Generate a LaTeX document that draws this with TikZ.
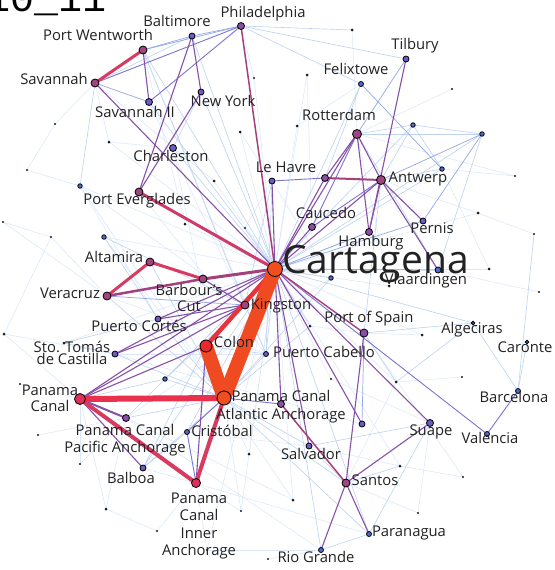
\documentclass[tikz,border=0pt]{standalone}
\usepackage{fontspec}
\setmainfont{Open Sans}
\newfontfamily\titlefont{Liberation Mono}
\definecolor{cE0}{HTML}{D9E7F8}
\definecolor{cE1}{HTML}{BDD2F2}
\definecolor{cE2}{HTML}{94A8E6}
\definecolor{cE3}{HTML}{7A74D2}
\definecolor{cE4}{HTML}{8652A8}
\definecolor{cE5}{HTML}{A5407F}
\definecolor{cE6}{HTML}{D93A62}
\definecolor{cRed}{HTML}{E8333C}
\definecolor{cOr}{HTML}{F04A22}
\definecolor{cCr}{HTML}{E9304C}
\definecolor{nBlue}{HTML}{4F6BD0}
\definecolor{nBP}{HTML}{6A5CC0}
\definecolor{nPur}{HTML}{8A4FA5}
\definecolor{nMag}{HTML}{A0457F}
\definecolor{nCr}{HTML}{E0305A}
\definecolor{nRed}{HTML}{E8282E}
\definecolor{nOr}{HTML}{F04E1E}
\definecolor{txt}{HTML}{222222}
\pgfdeclarelayer{bg}
\pgfdeclarelayer{edges}
\pgfsetlayers{bg,edges,main}
\tikzset{
  pnode/.style={circle,draw=black,line width=0.8pt,inner sep=0pt},
  dotnode/.style={circle,fill=black!90,inner sep=0pt,minimum size=3pt},
  tinynode/.style={circle,fill=black!90,inner sep=0pt,minimum size=2.2pt},
  lbl/.style={font=\fontsize{14.8}{16}\selectfont,text=txt,inner sep=0pt,anchor=mid},
  mlbl/.style={text=txt,inner sep=0pt,anchor=center,align=center},
  e0/.style={draw=cE0,line width=0.5pt},
  e1/.style={draw=cE1,line width=0.6pt},
  e2/.style={draw=cE2,line width=0.7pt},
  e3/.style={draw=cE3,line width=0.9pt},
  e4/.style={draw=cE4,line width=1.1pt},
  e5/.style={draw=cE5,line width=2pt},
  e6/.style={draw=cE6,line width=3pt},
}
\newcommand\PN[5]{\node[pnode,fill=#4,minimum size=#5pt] (#1) at (#2,#3) {};}
\newcommand\DT[3]{\node[dotnode] (#1) at (#2,#3) {};}
\newcommand\TD[3]{\node[tinynode] (#1) at (#2,#3) {};}
\newcommand\EDG[3]{\draw[#1] (#2.center) -- (#3.center);}
\begin{document}
\begin{tikzpicture}[x=1pt,y=-1pt]
\useasboundingbox (0,0) rectangle (554,570);
\begin{pgfonlayer}{bg}
\fill[white] (0,0) rectangle (554,570);
\end{pgfonlayer}
\clip (0,0) rectangle (554,570);
% title
\node[font=\titlefont\fontsize{40}{40}\selectfont,anchor=base west,inner sep=0pt] (title) at (-14,12) {10\_11};
% labelled nodes
\PN{phl}{241}{26}{nPur}{7}
\PN{bal}{192}{36}{nBP}{6}
\PN{pwe}{143}{50}{nMag}{8}
\PN{sav}{95}{83}{nMag}{8}
\PN{sv2}{149}{102}{nBP}{7}
\PN{nyc}{201}{92}{nBP}{6}
\PN{chs}{173}{148}{nBP}{7}
\PN{pev}{139}{192}{nMag}{8}
\PN{leh}{272}{181}{nBP}{6}
\PN{lhr}{325}{178}{nPur}{7}
\PN{rtm}{357}{134}{nMag}{9}
\PN{ant}{381}{180}{nMag}{9}
\PN{tib}{406}{59}{nBP}{6}
\PN{fxt}{361}{84}{nBlue}{5}
\PN{cau}{312}{227}{nPur}{7}
\PN{ham}{369}{232}{nPur}{7}
\PN{per}{423}{221}{nBP}{6}
\PN{vla}{438}{270}{nBlue}{6}
\PN{pos}{364}{333}{nPur}{8}
\PN{kin}{245}{305}{nMag}{8}
\PN{bar}{203}{279}{nMag}{8}
\PN{alt}{150}{262}{nMag}{8}
\PN{ver}{107}{296}{nMag}{8}
\PN{pco}{158}{319}{nBP}{6}
\PN{sto}{115}{354}{nBP}{6}
\PN{pcb}{266}{354}{nBP}{5}
\PN{cri}{187}{432}{nBP}{5}
\PN{pap}{126}{418}{nPur}{7}
\PN{blb}{143}{468}{nBP}{6}
\PN{pai}{196}{483}{nCr}{9}
\PN{sal}{309}{446}{nBP}{6}
\PN{u362}{362}{424}{nBP}{6}
\PN{u281}{281}{404}{nPur}{7}
\PN{san}{346}{483}{nMag}{8}
\PN{sua}{430}{423}{nBP}{7}
\PN{prn}{369}{534}{nBlue}{5}
\PN{rgr}{321}{550}{nBlue}{5}
\PN{vlc}{487}{434}{nBlue}{5}
\PN{bcn}{518}{391}{nBlue}{5}
\PN{car}{527}{342}{nBlue}{3.5}
\PN{alg}{473}{323}{nBlue}{3.5}
\PN{pan}{80}{399}{nCr}{11}
\PN{col}{206}{346}{nRed}{12}
\PN{paa}{224}{398}{nOr}{14}
\PN{ctg}{275}{269}{nOr}{15}
% unlabeled blue nodes
\PN{u413}{413}{125}{nBlue}{4.5}
\PN{u482}{482}{134}{nBlue}{4.5}
\PN{u442}{442}{169}{nBlue}{4.5}
\PN{u331}{331}{278}{nBlue}{4.5}
\PN{u104}{104}{237}{nBlue}{4.5}
\PN{u80}{80}{186}{nBlue}{4.5}
\PN{u165}{165}{379}{nBlue}{4.5}
% dots
\DT{d352}{352}{30} \DT{d307}{307}{75} \TD{d452}{452}{89} \DT{d297}{297}{126}
\TD{d254}{254}{78} \DT{d240}{240}{132} \TD{d55}{55}{124} \DT{d109}{109}{142}
\TD{d27}{27}{170} \DT{d214}{214}{181} \DT{d185}{185}{224} \TD{d245}{245}{228}
\TD{d3}{3}{222} \TD{d51}{51}{237} \DT{d4}{4}{334} \DT{d64}{64}{343}
\TD{d20}{20}{384} \DT{d478}{478}{213} \DT{d489}{489}{269} \TD{d534}{534}{234}
\TD{d539}{539}{292} \DT{d310}{310}{326} \DT{d422}{422}{335} \TD{d331}{331}{379}
\DT{d396}{396}{382} \TD{d462}{462}{377} \DT{d400}{400}{466} \TD{d463}{463}{477}
\TD{d418}{418}{513} \DT{d293}{293}{500} \DT{d249}{249}{454} \TD{d38}{38}{435}
\TD{d80}{80}{464} \DT{d106}{106}{509} \TD{d157}{157}{531} \TD{d241}{241}{511}
\TD{d268}{268}{559} \TD{d207}{207}{550} \DT{d389}{389}{286} \TD{d515}{515}{176}
% labels
\node[lbl] (l-phl) at (263,15) {Philadelphia};
\node[lbl] (l-bal) at (177,24) {Baltimore};
\node[lbl] (l-pwe) at (98,38) {Port Wentworth};
\node[lbl] (l-sav) at (54,82) {Savannah};
\node[lbl] (l-sv2) at (135,115) {Savannah II};
\node[lbl] (l-nyc) at (223,104) {New York};
\node[lbl] (l-chs) at (171,159) {Charleston};
\node[lbl] (l-pev) at (137,202) {Port Everglades};
\node[lbl] (l-leh) at (286,170) {Le Havre};
\node[lbl] (l-rtm) at (339,118) {Rotterdam};
\node[lbl] (l-ant) at (418,180) {Antwerp};
\node[lbl] (l-tib) at (415,47) {Tilbury};
\node[lbl] (l-fxt) at (356,72) {Felixtowe};
\node[lbl] (l-cau) at (326,216) {Caucedo};
\node[lbl] (l-ham) at (371,244) {Hamburg};
\node[font=\fontsize{39}{40}\selectfont,text=txt,inner sep=0pt,anchor=base west] (l-ctg) at (282,273) {Cartagena};
\node[lbl] (l-per) at (432,231) {Pernis};
\node[lbl] (l-vla) at (426,282) {Vlaardingen};
\node[lbl] (l-pos) at (369,320) {Port of Spain};
\node[lbl] (l-kin) at (281,307) {Kingston};
\node[mlbl,font=\fontsize{14.8}{16}\selectfont] (l-bar) at (189,298) {Barbour’s\\Cut};
\node[lbl] (l-alt) at (114,260) {Altamira};
\node[lbl] (l-ver) at (70,296) {Veracruz};
\node[lbl] (l-pco) at (139,329) {Puerto Cortés};
\node[mlbl,font=\fontsize{14.8}{12}\selectfont] (l-sto) at (72,353) {Sto. Tomás\\de Castilla};
\node[lbl] (l-col) at (234,345) {Colon};
\node[lbl] (l-pcb) at (324,355) {Puerto Cabello};
\node[mlbl,font=\fontsize{14.8}{16}\selectfont] (l-pan) at (50,398) {Panama\\Canal};
\node[mlbl,font=\fontsize{14.8}{18}\selectfont] (l-paa) at (281,407) {Panama Canal\\Atlantic Anchorage};
\node[lbl] (l-cri) at (222,434) {Cristóbal};
\node[mlbl,font=\fontsize{14.8}{17}\selectfont] (l-pap) at (125,440) {Panama Canal\\Pacific Anchorage};
\node[lbl] (l-blb) at (131,481) {Balboa};
\node[mlbl,font=\fontsize{14.8}{17.3}\selectfont] (l-pai) at (199,526) {Panama\\Canal\\Inner\\Anchorage};
\node[lbl] (l-sal) at (311,457) {Salvador};
\node[lbl] (l-san) at (375,483) {Santos};
\node[lbl] (l-sua) at (431,433) {Suape};
\node[lbl] (l-prn) at (409,534) {Paranagua};
\node[lbl] (l-rgr) at (316,560) {Rio Grande};
\node[lbl] (l-vlc) at (490,441) {Valencia};
\node[lbl] (l-bcn) at (514,400) {Barcelona};
\node[lbl] (l-car) at (525,350) {Caronte};
\node[lbl] (l-alg) at (472,331) {Algeciras};
% edges
\begin{pgfonlayer}{edges}
% faint
\foreach \t in {d297,d240,d214,d185,d245,d389,d478,d489,d422,d400,d396,d249,d293,d241,d331,d64,u104,u80,d109,d254,d307,d207}{\EDG{e0}{ctg}{\t}}
\EDG{e0}{d27}{d55} \EDG{e0}{d27}{u80} \EDG{e0}{d55}{sav} \EDG{e0}{d51}{d4} \EDG{e0}{d3}{ver}
\EDG{e0}{d4}{pan} \EDG{e0}{d20}{pan} \EDG{e0}{d38}{pap} \EDG{e0}{d80}{pan} \EDG{e0}{d106}{pap}
\EDG{e0}{d106}{d157} \EDG{e0}{d157}{pai} \EDG{e0}{d241}{pai} \EDG{e0}{d268}{rgr} \EDG{e0}{d207}{pai}
\EDG{e0}{d463}{d400} \EDG{e0}{d418}{san} \EDG{e0}{d418}{sua} \EDG{e0}{d462}{d396} \EDG{e0}{d515}{rtm}
\EDG{e0}{d515}{u442} \EDG{e0}{d534}{d478} \EDG{e0}{d452}{rtm} \EDG{e0}{d352}{rtm} \EDG{e0}{d307}{cau}
\EDG{e0}{d539}{vla} \EDG{e0}{u80}{pco} \EDG{e0}{u80}{kin} \EDG{e0}{d109}{chs} \EDG{e0}{d109}{sav}
\EDG{e0}{d51}{ver} \EDG{e0}{d3}{d51} \EDG{e0}{d4}{sto} \EDG{e0}{d106}{pan} \EDG{e0}{d80}{pap}
\EDG{e0}{d249}{paa} \EDG{e0}{d293}{paa} \EDG{e0}{d241}{paa} \EDG{e0}{d331}{sua} \EDG{e0}{d422}{pos}
\EDG{e0}{d310}{pos} \EDG{e0}{d254}{phl} \EDG{e0}{d240}{leh} \EDG{e0}{d214}{sav} \EDG{e0}{d185}{pwe}
\EDG{e0}{d489}{u442} \EDG{e0}{d478}{ant} \EDG{e0}{d389}{rtm} \EDG{e0}{d297}{fxt} \EDG{e0}{d245}{leh}
\EDG{e0}{d207}{rgr} \EDG{e0}{rgr}{pap} \EDG{e0}{prn}{blb} \EDG{e0}{sal}{cri} \EDG{e0}{d293}{pap}
\EDG{e0}{sto}{pcb} \EDG{e0}{u104}{paa} \EDG{e0}{u80}{paa} \EDG{e0}{ver}{pcb} \EDG{e0}{pev}{pcb}
\EDG{e0}{chs}{paa} \EDG{e0}{sv2}{kin} \EDG{e0}{pwe}{pcb} \EDG{e0}{u331}{leh} \EDG{e0}{u331}{pap}
\EDG{e0}{d463}{pos} \EDG{e0}{d400}{sal} \EDG{e0}{d396}{san} \EDG{e0}{u362}{sto}
\foreach \t in {bal,pwe,chs,nyc,sv2,fxt,u413,u482,u442,alg,pcb,cri,blb,pap,prn,rgr,u331,d310,u165,ham}{\EDG{e1}{ctg}{\t}}
\foreach \t in {pcb,pap,u165,sto,blb,d310,pco,u331,ver,alt,sal,san,prn}{\EDG{e1}{paa}{\t}}
\EDG{e1}{alg}{bcn} \EDG{e1}{alg}{d396} \EDG{e1}{bcn}{car} \EDG{e1}{bcn}{d534} \EDG{e1}{sua}{prn}
\EDG{e1}{sua}{sal} \EDG{e1}{san}{d400} \EDG{e1}{rgr}{prn} \EDG{e1}{phl}{d352} \EDG{e1}{phl}{fxt}
\EDG{e1}{phl}{tib} \EDG{e1}{sav}{bal} \EDG{e1}{rtm}{u413} \EDG{e1}{rtm}{u482} \EDG{e1}{rtm}{vla}
\EDG{e1}{u413}{ant} \EDG{e1}{u413}{u442} \EDG{e1}{u482}{vla} \EDG{e1}{u442}{ant} \EDG{e1}{fxt}{lhr}
\EDG{e1}{leh}{kin} \EDG{e1}{leh}{pcb} \EDG{e1}{u104}{pco} \EDG{e1}{u104}{kin} \EDG{e1}{u165}{pan}
\EDG{e1}{u165}{kin} \EDG{e1}{sto}{d64} \EDG{e1}{pco}{d64} \EDG{e1}{blb}{cri} \EDG{e1}{pos}{alg}
\EDG{e1}{pos}{d396} \EDG{e1}{kin}{pcb} \EDG{e1}{col}{pcb} \EDG{e1}{col}{blb} \EDG{e1}{pwe}{kin}
\EDG{e1}{chs}{nyc} \EDG{e1}{sav}{u80} \EDG{e1}{u482}{u413} \EDG{e1}{ant}{pos} \EDG{e1}{sal}{san}
\EDG{e2}{pwe}{bal} \EDG{e2}{pwe}{phl} \EDG{e2}{bal}{phl} \EDG{e2}{sav}{sv2} \EDG{e2}{fxt}{u442}
\EDG{e2}{tib}{rtm} \EDG{e2}{u482}{per} \EDG{e2}{u482}{ant} \EDG{e2}{ham}{ctg} \EDG{e2}{per}{ctg}
\EDG{e2}{vla}{ctg} \EDG{e2}{pos}{u362} \EDG{e2}{ver}{kin}
\EDG{e3}{sav}{phl} \EDG{e3}{sv2}{phl} \EDG{e3}{leh}{lhr} \EDG{e3}{vlc}{ctg} \EDG{e3}{vlc}{bcn}
\EDG{e3}{rtm}{cau} \EDG{e3}{ant}{cau} \EDG{e3}{cri}{paa} \EDG{e3}{pai}{cri} \EDG{e3}{u281}{paa}
\EDG{e4}{pwe}{sv2} \EDG{e4}{bal}{nyc} \EDG{e4}{bal}{pev} \EDG{e4}{nyc}{pev} \EDG{e4}{sav}{ctg}
\EDG{e4}{tib}{ham} \EDG{e4}{rtm}{ant} \EDG{e4}{rtm}{ham} \EDG{e4}{rtm}{lhr} \EDG{e4}{rtm}{ctg}
\EDG{e4}{ant}{per} \EDG{e4}{ant}{vla} \EDG{e4}{ant}{ham} \EDG{e4}{ant}{ctg} \EDG{e4}{leh}{ctg}
\EDG{e4}{lhr}{ctg} \EDG{e4}{cau}{ctg} \EDG{e4}{pos}{san} \EDG{e4}{sua}{ctg} \EDG{e4}{san}{rgr}
\EDG{e4}{san}{prn} \EDG{e4}{san}{sua} \EDG{e4}{sal}{ctg} \EDG{e4}{u362}{ctg} \EDG{e4}{u281}{ctg}
\EDG{e4}{kin}{bar} \EDG{e4}{kin}{pco} \EDG{e4}{kin}{sto} \EDG{e4}{pco}{ctg} \EDG{e4}{sto}{ctg}
\EDG{e4}{pan}{ctg} \EDG{e4}{pan}{kin} \EDG{e4}{pan}{blb} \EDG{e4}{pan}{col} \EDG{e4}{pai}{col}
\draw[cE4,line width=2pt] (pan.center) -- (pap.center);
\draw[cE5,line width=1.5pt] (phl.center) -- (ctg.center);
\draw[cE5,line width=1.4pt] (pos.center) -- (ctg.center);
\draw[cE5,line width=1.5pt] (san.center) -- (u281.center);
\draw[cE5,line width=2pt] (ant.center) -- (lhr.center);
\draw[cE5,line width=2.5pt] (ver.center) -- (bar.center);
\draw[cE5,line width=3pt] (bar.center) -- (ctg.center);
\draw[draw=cE6!80!cE5,line width=3pt] (pev.center) -- (ctg.center);
\EDG{e6}{sav}{pwe} \EDG{e6}{alt}{ver} \EDG{e6}{alt}{bar}
\draw[cE6,line width=4pt] (pan.center) -- (pai.center);
\draw[cE6,line width=4pt] (pai.center) -- (paa.center);
\draw[cCr,line width=6pt] (pan.center) -- (paa.center);
\draw[cRed,line width=4.5pt] (col.center) -- (ctg.center);
\draw[cOr,line width=14pt] (col.center) -- (paa.center);
\draw[cOr,line width=14pt] (paa.center) -- (ctg.center);
\end{pgfonlayer}
\end{tikzpicture}
\end{document}
